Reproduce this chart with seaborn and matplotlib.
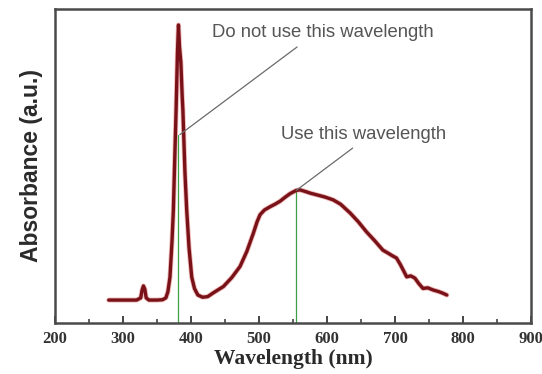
import matplotlib
matplotlib.use("Agg")
import matplotlib.pyplot as plt
import seaborn as sns
import pandas as pd

# Absorption spectrum (wavelength in nm, absorbance in arbitrary units)
wavelength = [279, 300, 320, 326, 328, 330, 332, 334, 338, 350, 358, 363, 366,
              369, 372, 374, 376, 378, 380, 381.5, 383, 385, 387, 388, 391, 393.6,
              397, 401, 405, 410, 417, 424.5, 432, 440, 447.5, 460, 472, 482,
              491.6, 497, 501.5, 508, 516, 524, 531, 538, 545.6, 554.4, 560,
              567.6, 576, 585, 597, 609, 620, 634, 646, 658, 670, 682, 690, 696,
              702, 708, 717, 723, 729, 735, 741, 748, 756, 764, 770, 776]
absorbance = [0.073, 0.073, 0.073, 0.080, 0.105, 0.118, 0.108, 0.080, 0.073,
              0.073, 0.074, 0.080, 0.100, 0.146, 0.260, 0.360, 0.520, 0.678,
              0.860, 0.949, 0.880, 0.830, 0.720, 0.678, 0.480, 0.360, 0.240,
              0.146, 0.110, 0.089, 0.082, 0.084, 0.095, 0.106, 0.116, 0.145,
              0.180, 0.228, 0.286, 0.322, 0.345, 0.360, 0.370, 0.379, 0.388,
              0.400, 0.412, 0.422, 0.424, 0.419, 0.413, 0.408, 0.401, 0.392,
              0.378, 0.350, 0.322, 0.290, 0.262, 0.232, 0.222, 0.214, 0.207,
              0.185, 0.147, 0.150, 0.143, 0.125, 0.110, 0.112, 0.105, 0.100,
              0.095, 0.089]

# Marked wavelengths: (position, height of the marker line)
marker_nm = [381, 554.5]
marker_top = [0.60, 0.422]

# Callout labels: text, arrow start (x, y), text anchor (x, y)
callout_text = ["Do not use this wavelength", "Use this wavelength"]
callout_from = [(383.5, 0.60), (554.5, 0.422)]
callout_to = [(555.9, 0.879), (637.6, 0.557)]
callout_pos = [(594, 0.924), (654, 0.599)]

x_ticks = [200, 300, 400, 500, 600, 700, 800, 900]

sns.set_style("white")
plt.rcParams["font.family"] = ["Liberation Sans", "DejaVu Sans"]

df = pd.DataFrame({"Wavelength": wavelength, "Absorbance": absorbance})

fig = plt.figure(figsize=(5.42, 3.74), dpi=100)
ax = fig.add_axes([0.1015, 0.1364, 0.8785, 0.8396])

# green marker lines behind the spectrum
for x, top in zip(marker_nm, marker_top):
    ax.plot([x, x], [0, top], color="#3f9f45", lw=0.9, zorder=2)

# soft halo plus main spectrum trace
sns.lineplot(data=df, x="Wavelength", y="Absorbance", ax=ax, color="#d9605c",
             lw=3.6, alpha=0.45, sort=False, zorder=3)
sns.lineplot(data=df, x="Wavelength", y="Absorbance", ax=ax, color="#781218",
             lw=2.4, sort=False, zorder=4)

# callouts
for txt, p0, p1, pos in zip(callout_text, callout_from, callout_to, callout_pos):
    ax.plot([p0[0], p1[0]], [p0[1], p1[1]], color="#6a6a6a", lw=0.9, zorder=5)
    ax.text(pos[0], pos[1], txt, ha="center", va="center", fontsize=13.3,
            color="#555555", family=["Liberation Sans", "DejaVu Sans"])

ax.set_xlim(200, 900)
ax.set_ylim(0, 1)
ax.set_xticks(x_ticks)
ax.set_xticks([250, 350, 450, 550, 650, 750, 850], minor=True)
ax.set_yticks([])
ax.set_xticklabels([str(t) for t in x_ticks], fontsize=12, fontweight="bold",
                   family=["Liberation Serif", "DejaVu Serif"], color="#333333")
ax.tick_params(axis="x", which="major", direction="in", length=5, width=1.4,
               color="#444444", pad=6, bottom=True)
ax.tick_params(axis="x", which="minor", direction="in", length=3, width=1.2,
               color="#444444", bottom=True)

ax.set_xlabel("Wavelength (nm)", fontsize=15.5, fontweight="bold",
              family=["Liberation Serif", "DejaVu Serif"], color="#2a2a2a",
              labelpad=1)
ax.set_ylabel("Absorbance (a.u.)", fontsize=16.5, fontweight="bold",
              color="#2a2a2a", labelpad=9)

for side in ["left", "right", "top", "bottom"]:
    ax.spines[side].set_visible(True)
    ax.spines[side].set_color("#4a4a4a")
    ax.spines[side].set_linewidth(1.8)

fig.savefig("out.png", dpi=100)
